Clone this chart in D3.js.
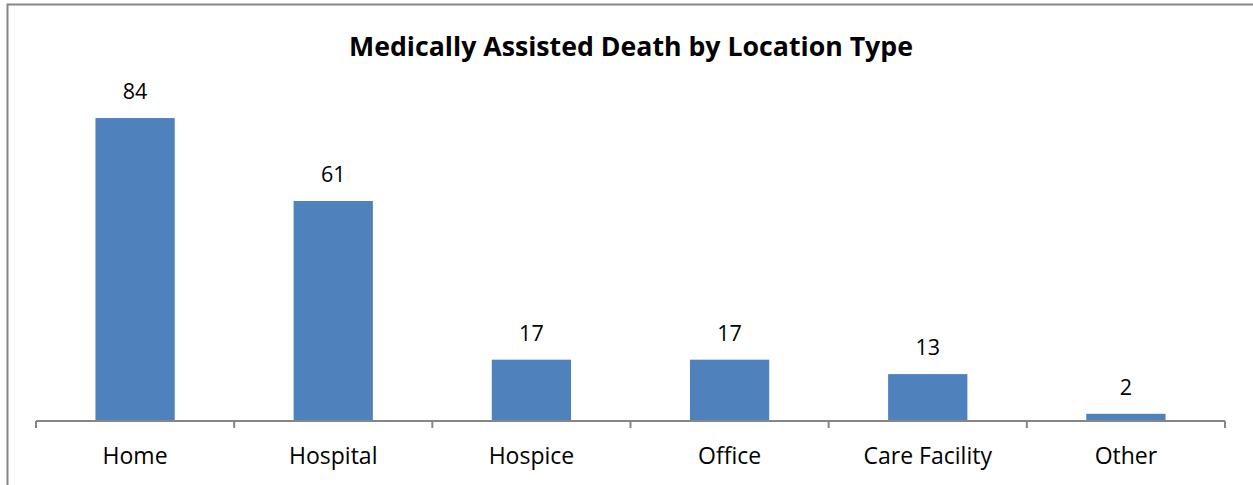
<!DOCTYPE html>
<html>
<head>
<meta charset="utf-8">
<script src="https://cdn.jsdelivr.net/npm/d3@7"></script>
<style>
  body { margin: 0; background: #fff; }
  svg { display: block; }
</style>
</head>
<body>
<svg id="chart" width="1253" height="485"></svg>
<script>
// data
const categories = ["Home", "Hospital", "Hospice", "Office", "Care Facility", "Other"]
const deaths = [84, 61, 17, 17, 13, 2]
const TITLE = "Medically Assisted Death by Location Type"

const svg = d3.select("#chart")
const FONT = "Open Sans, Noto Sans, sans-serif"

// outer frame (right and bottom edges run off the page)
svg.append("rect")
    .attr("x", 7.5).attr("y", 4.5)
    .attr("width", 1260).attr("height", 500)
    .style("fill", "none")
    .style("stroke", "#868686")
    .style("stroke-width", 2)

// title
svg.append("text")
    .text(TITLE)
    .attr("x", 631).attr("y", 56)
    .style("font-family", FONT)
    .style("font-weight", "bold")
    .style("font-size", "26.7px")
    .style("text-anchor", "middle")
    .style("fill", "#000")

// scales
let x = d3.scaleBand()
    .domain(categories)
    .range([36, 1225])
    .paddingInner(0.6)
    .paddingOuter(0.3)
let band = d3.scaleBand().domain(categories).range([36, 1225])
let y = d3.scaleLinear()
    .domain([0, 90])
    .range([421, 96.4])

// bars
svg.selectAll(".bar")
    .data(categories)
    .enter().append("rect")
    .attr("class", "bar")
    .attr("x", d => x(d))
    .attr("y", (d, i) => y(deaths[i]))
    .attr("width", x.bandwidth())
    .attr("height", (d, i) => y(0) - y(deaths[i]))
    .style("fill", "#4F81BD")

// value labels
svg.selectAll(".val")
    .data(categories)
    .enter().append("text")
    .attr("class", "val")
    .text((d, i) => deaths[i])
    .attr("x", d => x(d) + x.bandwidth() / 2)
    .attr("y", (d, i) => y(deaths[i]) - 19)
    .style("font-family", FONT)
    .style("font-size", "21.5px")
    .style("text-anchor", "middle")
    .style("fill", "#000")

// x axis: tick marks at the category boundaries
let ax = svg.append("g")
    .attr("transform", "translate(0,421)")
ax.append("line")
    .attr("x1", 36).attr("x2", 1225)
    .style("stroke", "#868686").style("stroke-width", 2)
let edges = categories.map(c => band(c)).concat([1225])
ax.selectAll(".tk")
    .data(edges)
    .enter().append("line")
    .attr("x1", d => d).attr("x2", d => d)
    .attr("y1", 0).attr("y2", 7)
    .style("stroke", "#868686").style("stroke-width", 2)
ax.selectAll(".lbl")
    .data(categories)
    .enter().append("text")
    .text(d => d)
    .attr("x", d => band(d) + band.bandwidth() / 2)
    .attr("y", 43)
    .style("font-family", FONT)
    .style("font-size", "23px")
    .style("text-anchor", "middle")
    .style("fill", "#000")
</script>
</body>
</html>
